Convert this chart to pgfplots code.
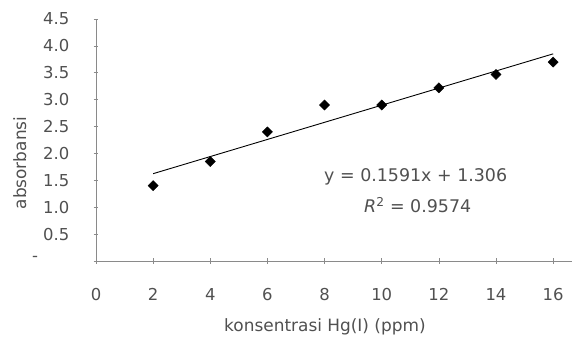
\documentclass[border=0pt]{standalone}
\usepackage{pgfplots}
\pgfplotsset{compat=1.18}
\usepackage{fontspec}
\setmainfont{DejaVu Sans}
\definecolor{txt}{HTML}{505050}
\definecolor{axc}{HTML}{8A8A8A}
\begin{document}
\begin{tikzpicture}
\path[use as bounding box] (0bp,0bp) rectangle (576bp,343bp);
\begin{axis}[
  at={(96bp,82bp)}, anchor=south west,
  scale only axis, width=476bp, height=242bp,
  xmin=0, xmax=16.66, ymin=0, ymax=4.5,
  axis x line*=bottom, axis y line*=left,
  axis line style={axc, line width=0.8pt},
  every tick/.style={axc, line width=0.6pt},
  tick align=center, major tick length=5bp,
  xtick={0,2,...,16},
  ytick={0,0.5,...,4.5},
  yticklabels={{},0.5,1.0,1.5,2.0,2.5,3.0,3.5,4.0,4.5},
  /pgf/number format/assume math mode=true,
  ticklabel style={font=\fontsize{16.5}{19}\selectfont, text=txt},
  xticklabel style={anchor=center, yshift=-31bp},
  yticklabel style={anchor=east, inner sep=0pt, xshift=-24bp},
  xlabel={konsentrasi Hg(I) (ppm)},
  ylabel={absorbansi},
  label style={font=\fontsize{17}{20}\selectfont, text=txt},
  xlabel style={at={(axis description cs:0.481,-0.273)}, anchor=center},
  ylabel style={at={(axis description cs:-0.16,0.405)}, anchor=center, rotate=0},
  clip=false,
]
\addplot[only marks, mark=square*, mark size=3.6bp, mark options={rotate=45, fill=black, draw=black}]
  coordinates {(2,1.40) (4,1.85) (6,2.40) (8,2.90) (10,2.90) (12,3.22) (14,3.47) (16,3.70)};
\addplot[black, line width=0.9pt] coordinates {(2,1.624) (16,3.852)};
\node[text=txt, font=\fontsize{17.5}{20}\selectfont] at (axis cs:11.19,1.56) {y = 0.1591x + 1.306};
\node[text=txt, font=\fontsize{17.5}{20}\selectfont] at (axis cs:11.26,1.04) {\textit{R}\textsuperscript{2} = 0.9574};
\node[text=txt, font=\fontsize{16.5}{19}\selectfont] at (axis description cs:-0.128,0.01) {-};
\end{axis}
\end{tikzpicture}
\end{document}
